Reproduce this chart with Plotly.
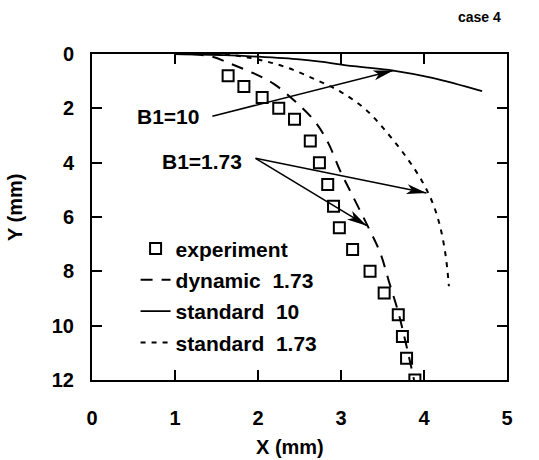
import math
import plotly.graph_objects as go

# Experimental profile (X, Y in mm)
exp_x = [1.64, 1.83, 2.05, 2.25, 2.44, 2.63, 2.74, 2.84, 2.91, 2.98, 3.14, 3.35, 3.52, 3.69, 3.74, 3.79, 3.89]
exp_y = [0.8, 1.2, 1.6, 2.0, 2.4, 3.2, 4.0, 4.8, 5.6, 6.4, 7.2, 8.0, 8.8, 9.6, 10.4, 11.2, 12.0]

# Dynamic model, B1 = 1.73
dyn_x = [1.2, 1.45, 1.67, 1.94, 2.19, 2.45, 2.69, 2.85, 2.99, 3.12, 3.3, 3.47, 3.58, 3.69, 3.77, 3.83, 3.88]
dyn_y = [0.0, 0.1, 0.36, 0.7, 1.1, 1.75, 2.5, 3.3, 4.3, 5.1, 6.2, 7.3, 8.4, 9.5, 10.5, 11.3, 12.0]

# Standard model, B1 = 10
s10_x = [1.0, 1.6, 2.0, 2.5, 2.75, 3.15, 3.63, 4.1, 4.7]
s10_y = [0.0, 0.04, 0.1, 0.2, 0.28, 0.45, 0.61, 0.88, 1.37]

# Standard model, B1 = 1.73
s173_x = [1.6, 2.0, 2.35, 2.7, 3.0, 3.3, 3.57, 3.8, 3.98, 4.1, 4.19, 4.26, 4.3]
s173_y = [0.0, 0.2, 0.5, 0.95, 1.4, 2.05, 2.95, 3.85, 4.7, 5.45, 6.3, 7.4, 8.55]

x_ticks = [0, 1, 2, 3, 4, 5]
y_ticks = [0, 2, 4, 6, 8, 10, 12]

# Labelled arrows: (label, label_x, label_y, tail_x, tail_y, [tips])
labels = [
    ("B1=10", 0.92, 2.29, 1.45, 2.29, [(3.63, 0.61)]),
    ("B1=1.73", 1.33, 3.96, 1.97, 3.84, [(4.03, 5.12), (3.31, 6.32)]),
]

W, H = 539, 460
ML, MR, MT, MB = 92, 32, 54, 80
XR = (0, 5)
YR = (12, 0)
px_x = (W - ML - MR) / (XR[1] - XR[0])
px_y = (H - MT - MB) / abs(YR[0] - YR[1])

FONT = "Arial, Liberation Sans, Helvetica, sans-serif"

fig = go.Figure()
fig.add_trace(go.Scatter(
    x=exp_x, y=exp_y, mode="markers", name="experiment", legendgroup="a",
    marker=dict(symbol="square-open", size=11, color="black", line=dict(width=2, color="black")),
))
fig.add_trace(go.Scatter(
    x=dyn_x, y=dyn_y, mode="lines", name="dynamic  1.73", legendgroup="b",
    line=dict(color="black", width=2, dash="12px,9px", shape="spline"),
))
fig.add_trace(go.Scatter(
    x=s10_x, y=s10_y, mode="lines", name="standard  10", legendgroup="c",
    line=dict(color="black", width=1.8, shape="spline"),
))
fig.add_trace(go.Scatter(
    x=s173_x, y=s173_y, mode="lines", name="standard  1.73", legendgroup="d",
    line=dict(color="black", width=2, dash="5px,6px", shape="spline"),
))


def head_path(tx, ty, sx, sy, length=20, width=10):
    # pixel-space arrowhead, y measured upward from the anchor
    dx = (tx - sx) * px_x
    dy = -(ty - sy) * px_y
    n = math.hypot(dx, dy)
    ux, uy = dx / n, dy / n
    qx, qy = -uy, ux
    p1 = (-length * ux + width / 2 * qx, -length * uy + width / 2 * qy)
    p2 = (-0.75 * length * ux, -0.75 * length * uy)
    p3 = (-length * ux - width / 2 * qx, -length * uy - width / 2 * qy)
    return "M0,0 L{:.2f},{:.2f} L{:.2f},{:.2f} L{:.2f},{:.2f} Z".format(*p1, *p2, *p3)


shapes = []
annotations = []
for text, lx, ly, sx, sy, tips in labels:
    annotations.append(dict(
        x=lx, y=ly, xref="x", yref="y", text=text, showarrow=False,
        xanchor="center", yanchor="middle",
        font=dict(size=21, family=FONT, color="black", weight="bold"),
    ))
    for tx, ty in tips:
        shapes.append(dict(type="line", xref="x", yref="y", x0=sx, y0=sy, x1=tx, y1=ty,
                           line=dict(color="black", width=1.6)))
        shapes.append(dict(type="path", xref="x", yref="y", xsizemode="pixel", ysizemode="pixel",
                           xanchor=tx, yanchor=ty, path=head_path(tx, ty, sx, sy),
                           fillcolor="black", line=dict(width=0)))

annotations += [
    dict(x=-0.186, y=0.53, xref="paper", yref="paper", text="Y (mm)", textangle=-90,
         xanchor="center", yanchor="middle",
         showarrow=False, font=dict(size=20, family=FONT, color="black", weight="bold")),
    dict(x=0.477, y=-0.205, xref="paper", yref="paper", text="X (mm)",
         xanchor="center", yanchor="middle",
         showarrow=False, font=dict(size=20, family=FONT, color="black", weight="bold")),
    dict(x=0.933, y=1.113, xref="paper", yref="paper", text="case 4",
         xanchor="center", yanchor="middle",
         showarrow=False, font=dict(size=14, family=FONT, color="black", weight="bold")),
]

# Frame on all four sides with inward ticks mirrored
axis_common = dict(
    showgrid=False, zeroline=False, showline=True, linecolor="black", linewidth=2,
    mirror="ticks", ticks="inside", ticklen=10, tickwidth=2, tickcolor="black",
    tickfont=dict(size=20, family=FONT, color="black", weight="bold"),
)

fig.update_layout(
    width=W, height=H,
    margin=dict(l=ML, r=MR, t=MT, b=MB),
    paper_bgcolor="white", plot_bgcolor="white",
    xaxis=dict(range=list(XR), tickvals=x_ticks, ticklabelstandoff=19, **axis_common),
    yaxis=dict(range=list(YR), tickvals=y_ticks, ticklabelstandoff=12, **axis_common),
    showlegend=True,
    legend=dict(x=0.105, y=0.465, xanchor="left", yanchor="top", bgcolor="rgba(0,0,0,0)",
                traceorder="grouped", tracegroupgap=1,
                font=dict(size=21, family=FONT, color="black", weight="bold")),
    shapes=shapes, annotations=annotations,
)

fig.write_html("out.html")
